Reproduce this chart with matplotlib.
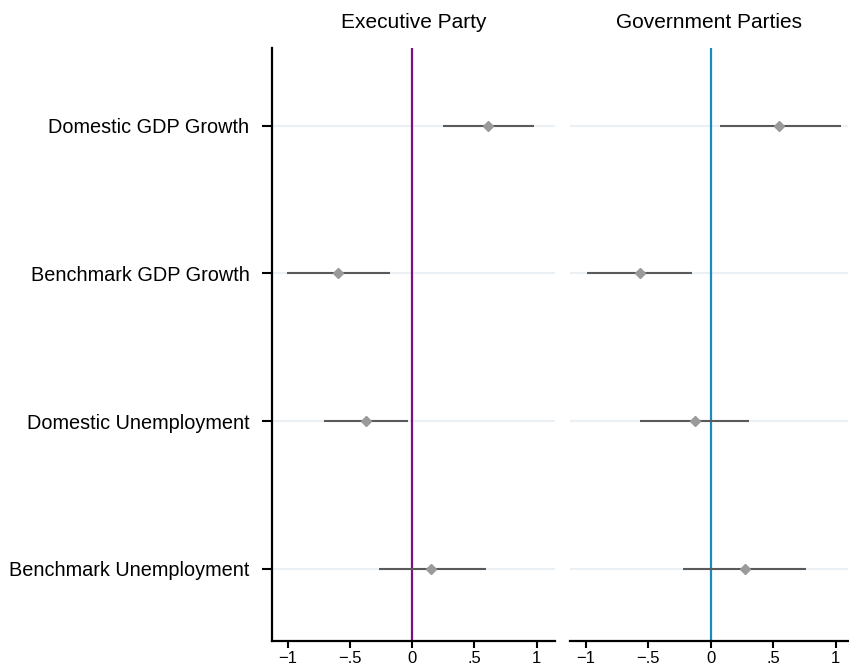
import numpy as np
import matplotlib.pyplot as plt

plt.rcParams['font.family'] = ['Liberation Sans', 'DejaVu Sans']

# coefficient estimates with 95% intervals
labels = ["Domestic GDP Growth", "Benchmark GDP Growth",
          "Domestic Unemployment", "Benchmark Unemployment"]

exec_est = [0.61, -0.60, -0.37, 0.15]
exec_lo = [0.25, -1.01, -0.71, -0.27]
exec_hi = [0.98, -0.18, -0.03, 0.59]

gov_est = [0.55, -0.57, -0.13, 0.27]
gov_lo = [0.07, -0.99, -0.57, -0.22]
gov_hi = [1.04, -0.15, 0.31, 0.76]

xticks = [-1, -0.5, 0, 0.5, 1]
xticklabels = ["\u22121", "\u2212.5", "0", ".5", "1"]

panels = [("Executive Party", exec_est, exec_lo, exec_hi, "#7d0f80"),
          ("Government Parties", gov_est, gov_lo, gov_hi, "#1a8bbf")]

fig = plt.figure(figsize=(8.49, 6.72), dpi=100)
ax1 = fig.add_axes([0.320, 0.0461, 0.334, 0.883])
ax2 = fig.add_axes([0.671, 0.0461, 0.328, 0.883])

ypos = np.arange(1, len(labels) + 1)

for ax, (title, est, lo, hi, col) in zip([ax1, ax2], panels):
    for y in ypos:
        ax.axhline(y, color="#eaf0f3", lw=1.5, zorder=0)
    ax.axvline(0, color=col, lw=1.6, zorder=1)
    ax.hlines(ypos, lo, hi, color="#5a5a5a", lw=1.5, zorder=2)
    ax.plot(est, ypos, "D", color="#9a9a9a", ms=5, zorder=3)
    ax.set_xlim(-1.13, 1.15)
    ax.set_ylim(4.49, 0.47)
    ax.set_xticks(xticks)
    ax.set_xticklabels(xticklabels, fontsize=12)
    ax.set_title(title, fontsize=15, pad=14)
    for s in ["top", "right"]:
        ax.spines[s].set_visible(False)
    ax.spines["bottom"].set_linewidth(1.6)
    ax.spines["left"].set_linewidth(1.6)
    ax.tick_params(axis="x", length=5, width=1.5, direction="out", pad=2)

ax1.set_yticks(ypos)
ax1.set_yticklabels(labels, fontsize=14.3)
ax1.tick_params(axis="y", length=7, width=1.5, pad=9)

ax2.spines["left"].set_visible(False)
ax2.set_yticks([])
ax2.set_xlim(-1.13, 1.10)

fig.savefig("out.png", dpi=100)
